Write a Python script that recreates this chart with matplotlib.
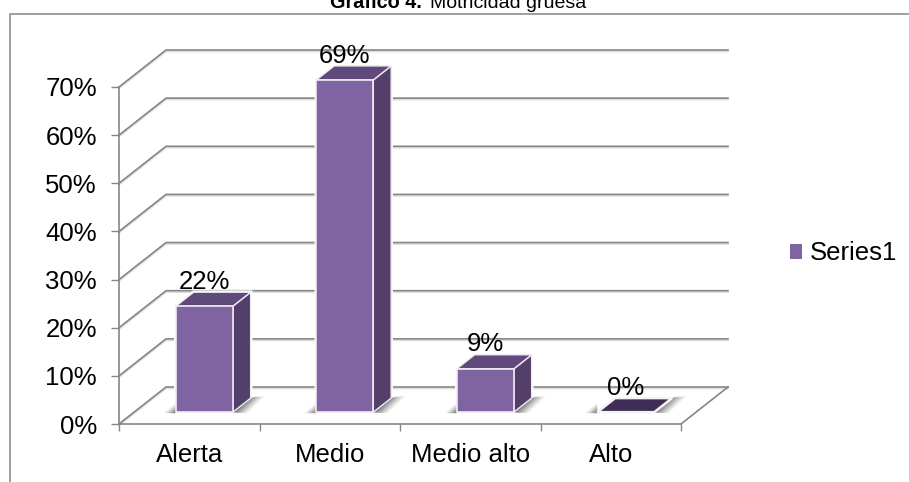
import matplotlib
matplotlib.use("Agg")
import matplotlib.pyplot as plt
from matplotlib.patches import Polygon, Patch
from matplotlib.lines import Line2D

categories = ["Alerta", "Medio", "Medio alto", "Alto"]
values = [22, 69, 9, 0]
yticks = [0, 10, 20, 30, 40, 50, 60, 70]
series_name = "Series1"

W, H = 909, 482
plt.rcParams["font.family"] = ["Liberation Sans", "DejaVu Sans"]
FS = 18.5
GRID = "#868686"
FRONT, SIDE, TOP, FLAT = "#8064A2", "#533F69", "#604A7B", "#3F2D55"

fig = plt.figure(figsize=(W / 100, H / 100), dpi=100)
ax = fig.add_axes([119 / W, 1 - 424 / H, 562 / W, 337 / H])
ax.set_xlim(0, 4)
ax.set_ylim(0, 70)
ax.patch.set_alpha(0)

ux = 4 / 562      # data units per pixel
uy = 70 / 337
DX, DY = 47 * ux, 37 * uy   # full depth of the floor


def P(x, y, d=0.0):
    """Project a point with depth fraction d into the 2-D axes."""
    return (x + d * DX, y + d * DY)


# frame and title
fig.add_artist(Line2D([10 / W, 10 / W, 1], [0, 1 - 14 / H, 1 - 14 / H], color="#8f8f8f", lw=1.2))
fig.text(421.5 / W, 1 - 7.5 / H, "Gráfico 4.", fontsize=14.3, fontweight="bold", ha="right", va="baseline")
fig.text(430 / W, 1 - 7.5 / H, "Motricidad gruesa", fontsize=14, ha="left", va="baseline")

# walls
for t in yticks:
    xs = [P(0, t)[0], P(0, t, 1)[0], P(4, t, 1)[0]]
    ys = [P(0, t)[1], P(0, t, 1)[1], P(4, t, 1)[1]]
    ax.plot(xs, [y - 1.5 * uy for y in ys], color="#dedede", lw=1.2, clip_on=False, zorder=1)
    ax.plot(xs, ys, color=GRID, lw=1.2, clip_on=False, zorder=2)
fl = [P(4, 0), P(4, 0, 1)]
ax.plot([p[0] for p in fl], [p[1] for p in fl], color=GRID, lw=1.2, clip_on=False, zorder=2)

# bars
BW = 57 * ux
D0, D1 = 0.32, 0.70
for i, v in enumerate(values):
    c = i + 0.5
    l, r = c - BW / 2, c + BW / 2
    fb = [P(l, 0, D0), P(r, 0, D0), P(r, v, D0), P(l, v, D0)]
    sd = [P(r, 0, D0), P(r, 0, D1), P(r, v, D1), P(r, v, D0)]
    tp = [P(l, v, D0), P(r, v, D0), P(r, v, D1), P(l, v, D1)]
    bl, br, bb = P(r, 0, D1), P(r, 0, D0), P(l, 0, D0)
    if v > 0:
        outline = [fb[0], fb[1], sd[1], sd[2], tp[3], fb[3]]
        ax.add_patch(Polygon(outline, closed=True, fc="white", ec="white", lw=2.6, zorder=4, clip_on=False))
    # floor shadow, fading away from the bar
    for k, a in ((1.0, 0.10), (0.8, 0.14), (0.6, 0.18), (0.4, 0.24), (0.2, 0.28)):
        right = [br, bl, (bl[0] + 14 * k * ux, bl[1] + 2 * uy), (br[0] + 14 * k * ux, br[1] - 1 * uy)]
        left = [(bb[0] - 12 * k * ux, bb[1] - 1 * uy), (bb[0], bb[1] + 9 * k * uy), (bb[0], bb[1] - 1 * uy)]
        for sh in (right, left):
            ax.add_patch(Polygon(sh, closed=True, fc="#444444", ec="none", alpha=a, zorder=4.5, clip_on=False))
    if v > 0:
        ax.add_patch(Polygon(sd, closed=True, fc=SIDE, ec="#efebf4", lw=1.0, zorder=5, clip_on=False))
        ax.add_patch(Polygon(tp, closed=True, fc=TOP, ec="#efebf4", lw=1.0, zorder=5, clip_on=False))
        ax.add_patch(Polygon(fb, closed=True, fc=FRONT, ec="#efebf4", lw=1.2, zorder=6, clip_on=False))
    else:
        ax.add_patch(Polygon(tp, closed=True, fc=FLAT, ec="#f4f4f4", lw=1.8, zorder=5, clip_on=False))
    ax.annotate(f"{v}%", xy=P(c, v, D0), xytext=(0, 12.5), textcoords="offset points",
                ha="center", va="baseline", fontsize=FS, color="black", zorder=8, annotation_clip=False)

# axes
for s in ("top", "right"):
    ax.spines[s].set_visible(False)
for s in ("left", "bottom"):
    ax.spines[s].set_color(GRID)
    ax.spines[s].set_linewidth(1.2)
    ax.spines[s].set_zorder(2)
ax.set_yticks(yticks)
ax.set_yticklabels([f"{t}%" for t in yticks], fontsize=FS)
ax.set_xticks(range(5))
ax.set_xticklabels([])
ax.set_xticks([i + 0.5 for i in range(4)], minor=True)
ax.set_xticklabels(categories, minor=True, fontsize=FS)
ax.tick_params(axis="y", length=5.5, width=1.0, color=GRID, pad=10.5)
ax.tick_params(axis="x", which="major", length=5, width=1.0, color=GRID)
ax.tick_params(axis="x", which="minor", length=0, pad=14)

fig.legend(handles=[Patch(fc=FRONT, ec="none", label=series_name)], loc="center left",
           bbox_to_anchor=(789.5 / W, 1 - 253.5 / H), frameon=False, fontsize=FS,
           handlelength=0.48, handleheight=0.48, handletextpad=0.32, borderpad=0, borderaxespad=0)

fig.savefig("out.png", dpi=100)
